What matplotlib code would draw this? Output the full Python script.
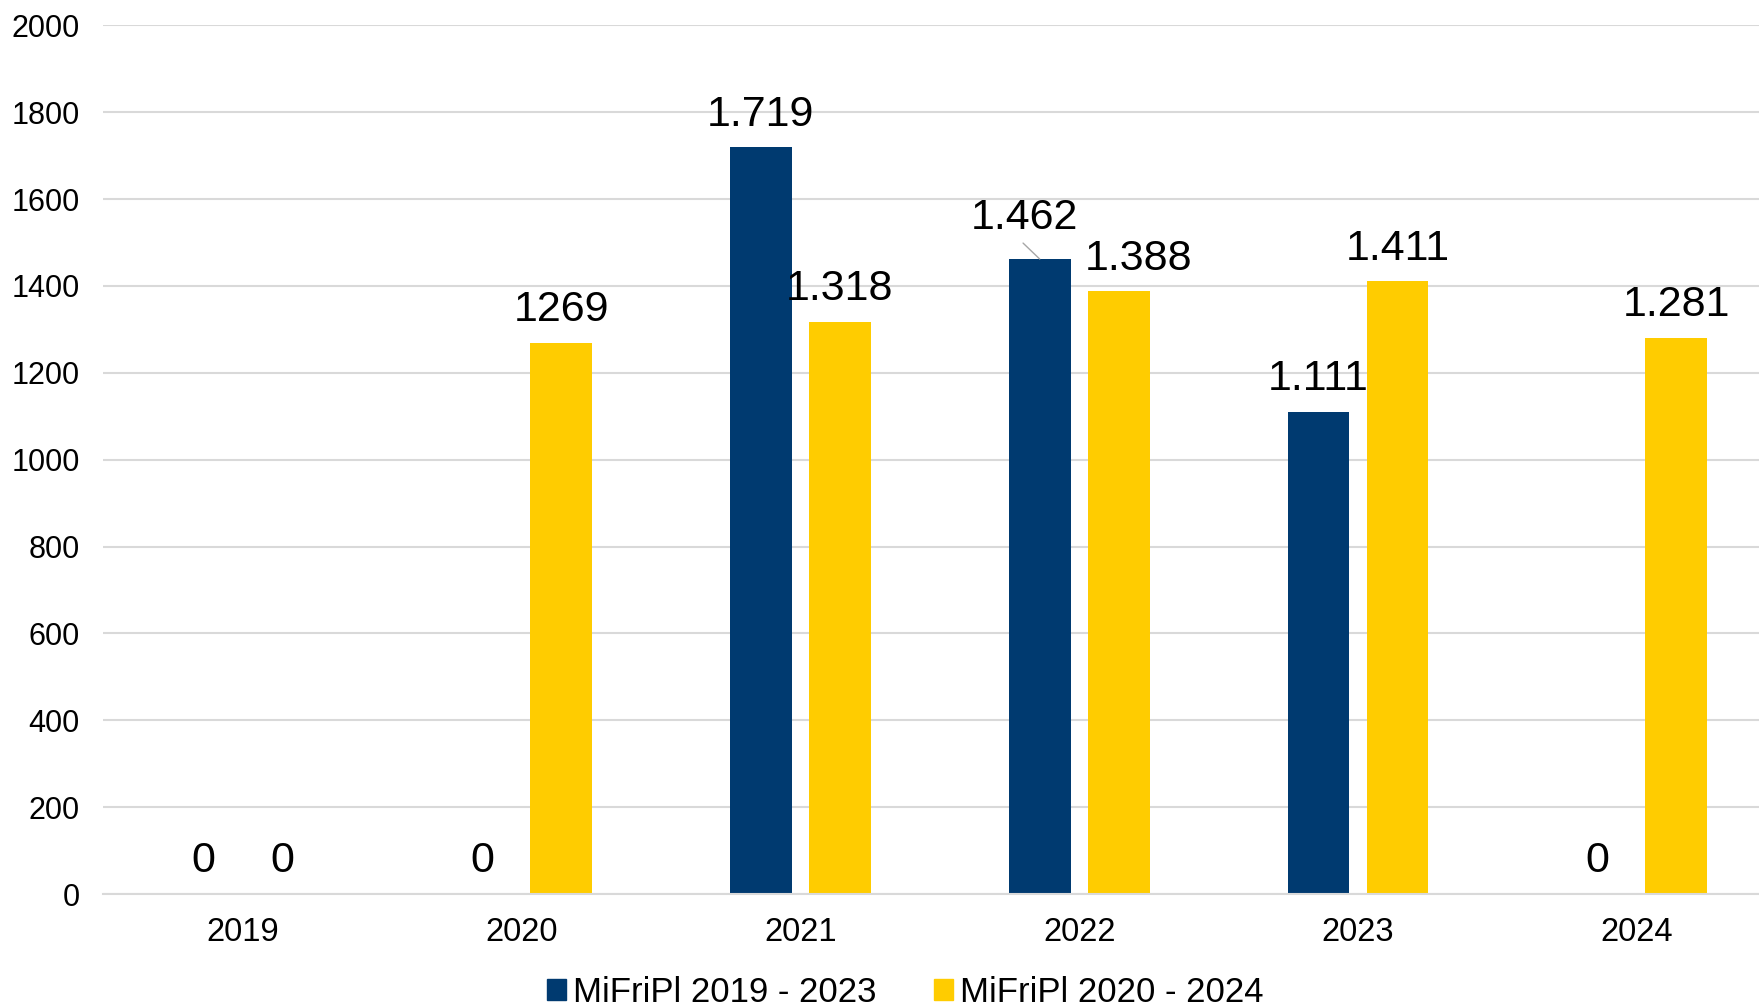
import matplotlib
matplotlib.use("Agg")
import matplotlib.pyplot as plt
from matplotlib.patches import Patch
import numpy as np

plt.rcParams['font.family'] = ['Liberation Sans', 'DejaVu Sans']

years = ['2019', '2020', '2021', '2022', '2023', '2024']
series_names = ['MiFriPl 2019 - 2023', 'MiFriPl 2020 - 2024']
navy_values = [0, 0, 1719, 1462, 1111, 0]
yellow_values = [0, 1269, 1318, 1388, 1411, 1281]
navy_labels = ['0', '0', '1.719', '1.462', '1.111', '0']
yellow_labels = ['0', '1269', '1.318', '1.388', '1.411', '1.281']
y_ticks = [0, 200, 400, 600, 800, 1000, 1200, 1400, 1600, 1800, 2000]

NAVY = '#003A70'
YELLOW = '#FFCC00'
GRID = '#D9D9D9'

fig = plt.figure(figsize=(17.59, 10.06), dpi=100)
ax = fig.add_axes([0.0588, 0.1112, 0.951, 0.8636])

x = np.arange(len(years))
w = 0.222
off = 0.1417
ax.bar(x - off, navy_values, w, color=NAVY, zorder=3)
ax.bar(x + off, yellow_values, w, color=YELLOW, zorder=3)

ax.set_xlim(-0.5, len(years) - 0.5)
ax.set_ylim(0, 2000)
ax.set_yticks(y_ticks)
ax.set_yticklabels([str(t) for t in y_ticks])
ax.set_xticks(x)
ax.set_xticklabels(years)
ax.tick_params(axis='y', length=0, pad=17, labelsize=22)
ax.tick_params(axis='x', length=0, pad=16.5, labelsize=23.5)
ax.grid(axis='y', color=GRID, lw=1.5, zorder=0)
ax.set_axisbelow(True)
for s in ['top', 'right', 'left']:
    ax.spines[s].set_visible(False)
ax.spines['bottom'].set_color(GRID)
ax.spines['bottom'].set_linewidth(1.5)
ax.spines['bottom'].set_zorder(4)

for xi, v, lab in zip(x - off, navy_values, navy_labels):
    if lab == '1.462':
        ax.annotate(lab, xy=(xi, v), xytext=(-11, 29.5), textcoords='offset points',
                    ha='center', va='center', fontsize=31, zorder=5)
        ax.annotate('', xy=(xi, v), xytext=(-12, 11.5), textcoords='offset points',
                    arrowprops=dict(arrowstyle='-', color='#A6A6A6', lw=1.0,
                                    shrinkA=0, shrinkB=0), zorder=5)
    else:
        ax.annotate(lab, xy=(xi, v), xytext=(0, 23.5), textcoords='offset points',
                    ha='center', va='center', fontsize=31, zorder=5)
for xi, v, lab in zip(x + off, yellow_values, yellow_labels):
    dx = 14 if lab == '1.388' else 0
    ax.annotate(lab, xy=(xi, v), xytext=(dx, 23.5), textcoords='offset points',
                ha='center', va='center', fontsize=31, zorder=5)

handles = [Patch(color=NAVY), Patch(color=YELLOW)]
fig.legend(handles, series_names, loc='center', bbox_to_anchor=(0.5145, 0.0135),
           ncol=2, frameon=False, fontsize=25, handlelength=0.55, handleheight=0.55,
           handletextpad=0.2, columnspacing=1.65, borderpad=0)

fig.savefig('out.png', dpi=100)
